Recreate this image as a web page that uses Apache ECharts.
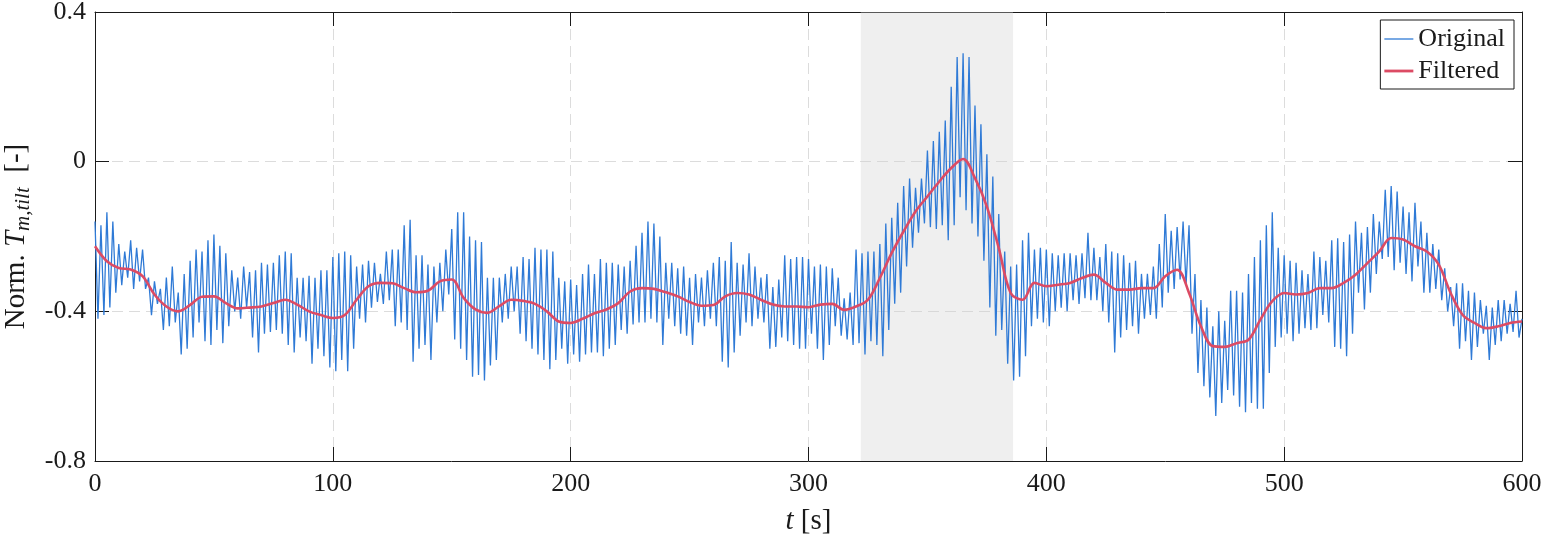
<!DOCTYPE html>
<html>
<head>
<meta charset="utf-8">
<script src="https://cdn.jsdelivr.net/npm/echarts@6/dist/echarts.min.js"></script>
<style>
html,body{margin:0;padding:0;background:#fff;}
#chart{width:1545px;height:543px;}
</style>
</head>
<body>
<div id="chart"></div>
<script>
// ---- data ----
// one oscillation cycle per 2.5 s: a local maximum then a local minimum
const cyclePeriod = 2.5;
const peaks = [
 -0.16,-0.17,-0.135,-0.16,  -0.22,-0.24,-0.21,-0.23,  -0.235,-0.31,-0.32,-0.34,  -0.31,-0.28,-0.35,-0.30,
 -0.265,-0.235,-0.24,-0.21, -0.195,-0.225,-0.245,-0.29, -0.31,-0.28,-0.295,-0.29, -0.27,-0.275,-0.27,-0.25,
 -0.24,-0.245,-0.31,-0.31,  -0.305,-0.31,-0.29,-0.29,  -0.255,-0.245,-0.24,-0.25, -0.28,-0.275,-0.265,-0.27,
 -0.30,-0.24,-0.235,-0.235, -0.17,-0.155,-0.25,-0.25,  -0.275,-0.28,-0.27,-0.235, -0.18,-0.135,-0.135,-0.20,
 -0.21,-0.215,-0.31,-0.31,  -0.31,-0.30,-0.28,-0.28,   -0.255,-0.26,-0.23,-0.235, -0.235,-0.24,-0.31,-0.32,
 -0.315,-0.33,-0.30,-0.275, -0.30,-0.26,-0.27,-0.27,   -0.275,-0.28,-0.265,-0.225, -0.19,-0.16,-0.165,-0.20,
 -0.27,-0.27,-0.285,-0.28,  -0.31,-0.30,-0.31,-0.29,   -0.27,-0.255,-0.265,-0.215, -0.27,-0.275,-0.245,-0.28,
 -0.31,-0.30,-0.335,-0.315, -0.25,-0.26,-0.255,-0.255, -0.26,-0.28,-0.275,-0.28, -0.285,-0.31,-0.365,-0.35,
 -0.235,-0.245,-0.24,-0.24, -0.22,-0.165,-0.15,-0.11,  -0.065,-0.045,-0.07,-0.045, 0.03,0.055,0.08,0.11,
 0.20,0.28,0.29,0.28,       0.15,0.10,0.02,-0.04,      -0.14,-0.24,-0.28,-0.275, -0.21,-0.19,-0.235,-0.23,
 -0.235,-0.245,-0.25,-0.245, -0.245,-0.25,-0.245,-0.19, -0.23,-0.255,-0.22,-0.24, -0.245,-0.25,-0.27,-0.265,
 -0.30,-0.30,-0.28,-0.22,   -0.14,-0.185,-0.175,-0.16, -0.17,-0.30,-0.37,-0.39,  -0.44,-0.40,-0.425,-0.345,
 -0.345,-0.35,-0.30,-0.255, -0.21,-0.17,-0.135,-0.23,  -0.25,-0.265,-0.27,-0.29,  -0.30,-0.24,-0.255,-0.265,
 -0.21,-0.205,-0.215,-0.195, -0.16,-0.19,-0.175,-0.14, -0.16,-0.075,-0.065,-0.08, -0.12,-0.135,-0.11,-0.16,
 -0.19,-0.22,-0.235,-0.285, -0.335,-0.325,-0.325,-0.345, -0.35,-0.37,-0.385,-0.39, -0.37,-0.37,-0.38,-0.345
];
const troughs = [
 -0.42,-0.41,-0.39,-0.35,   -0.33,-0.31,-0.34,-0.32,   -0.34,-0.41,-0.38,-0.45,   -0.44,-0.43,-0.515,-0.50,
 -0.47,-0.43,-0.48,-0.49,   -0.45,-0.485,-0.44,-0.40,  -0.42,-0.39,-0.47,-0.51,   -0.46,-0.455,-0.45,-0.46,
 -0.49,-0.51,-0.47,-0.48,   -0.54,-0.50,-0.52,-0.55,   -0.56,-0.53,-0.56,-0.50,   -0.42,-0.43,-0.39,-0.375,
 -0.38,-0.37,-0.44,-0.43,   -0.45,-0.535,-0.50,-0.49,  -0.53,-0.43,-0.40,-0.355,  -0.475,-0.50,-0.53,-0.575,
 -0.57,-0.585,-0.545,-0.53, -0.43,-0.42,-0.40,-0.46,   -0.48,-0.50,-0.515,-0.53,  -0.555,-0.53,-0.50,-0.54,
 -0.515,-0.535,-0.515,-0.51, -0.51,-0.52,-0.50,-0.49,  -0.45,-0.46,-0.435,-0.43,  -0.43,-0.42,-0.43,-0.49,
 -0.42,-0.44,-0.46,-0.465,  -0.49,-0.43,-0.44,-0.42,   -0.44,-0.535,-0.55,-0.51,  -0.465,-0.43,-0.44,-0.42,
 -0.43,-0.50,-0.495,-0.47,  -0.48,-0.49,-0.50,-0.50,   -0.46,-0.50,-0.53,-0.49,   -0.44,-0.465,-0.475,-0.49,
 -0.485,-0.515,-0.48,-0.49, -0.52,-0.45,-0.38,-0.35,   -0.28,-0.23,-0.19,-0.165,  -0.175,-0.18,-0.17,-0.21,
 -0.17,-0.095,-0.13,-0.165, -0.20,-0.265,-0.39,-0.465, -0.45,-0.54,-0.585,-0.575, -0.52,-0.44,-0.42,-0.43,
 -0.44,-0.40,-0.39,-0.40,   -0.37,-0.38,-0.365,-0.37,  -0.37,-0.40,-0.43,-0.51,   -0.47,-0.45,-0.44,-0.46,
 -0.42,-0.41,-0.42,-0.39,   -0.35,-0.34,-0.315,-0.33,  -0.46,-0.565,-0.60,-0.63,  -0.68,-0.645,-0.61,-0.625,
 -0.655,-0.67,-0.645,-0.66, -0.66,-0.565,-0.495,-0.47, -0.46,-0.48,-0.46,-0.445,  -0.45,-0.445,-0.41,-0.43,
 -0.495,-0.50,-0.52,-0.46,  -0.35,-0.395,-0.35,-0.30,  -0.26,-0.255,-0.29,-0.27,  -0.30,-0.32,-0.28,-0.35,
 -0.35,-0.34,-0.37,-0.40,   -0.44,-0.50,-0.48,-0.53,   -0.495,-0.46,-0.53,-0.49,  -0.48,-0.46,-0.455,-0.47
];
const originalEnd = -0.42;           // value at t = 600 s

// filtered signal, sampled every 5 s from t = 0 to 600
const filteredStep = 5;
const filtered = [
 -0.226,-0.266,-0.284,-0.288,-0.306,-0.355,-0.387,-0.400,-0.383,-0.361,
 -0.360,-0.378,-0.392,-0.390,-0.387,-0.378,-0.369,-0.382,-0.400,-0.410,
 -0.418,-0.410,-0.369,-0.333,-0.324,-0.325,-0.338,-0.349,-0.345,-0.320,
 -0.315,-0.364,-0.395,-0.404,-0.386,-0.369,-0.372,-0.380,-0.400,-0.427,
 -0.431,-0.420,-0.405,-0.395,-0.378,-0.347,-0.338,-0.340,-0.349,-0.360,
 -0.375,-0.385,-0.383,-0.360,-0.351,-0.355,-0.369,-0.382,-0.387,-0.387,
 -0.389,-0.382,-0.380,-0.396,-0.387,-0.369,-0.311,-0.244,-0.186,-0.133,
 -0.093,-0.053,-0.017,0.007,-0.044,-0.120,-0.231,-0.351,-0.369,-0.324,
 -0.333,-0.329,-0.324,-0.311,-0.302,-0.324,-0.342,-0.342,-0.338,-0.338,
 -0.306,-0.289,-0.351,-0.440,-0.493,-0.495,-0.485,-0.476,-0.422,-0.373,
 -0.351,-0.355,-0.351,-0.338,-0.338,-0.324,-0.302,-0.271,-0.240,-0.204,
 -0.208,-0.226,-0.240,-0.275,-0.351,-0.409,-0.431,-0.445,-0.440,-0.431,
 -0.427
];

const shadedRange = [322, 386];
const yTicks = [-0.8, -0.4, 0, 0.4];
const yTickLabels = ['-0.8', '-0.4', '0', '0.4'];
const seriesNames = ['Original', 'Filtered'];

// ---- build series data ----
const originalData = [];
for (let i = 0; i < peaks.length; i++) {
  originalData.push([i * cyclePeriod, peaks[i]]);
  originalData.push([i * cyclePeriod + cyclePeriod / 2, troughs[i]]);
}
originalData.push([peaks.length * cyclePeriod, originalEnd]);
const filteredData = filtered.map((v, i) => [i * filteredStep, v]);

const FONT = "'Liberation Serif', 'DejaVu Serif', serif";
const TXT = '#1a1a1a';
const BLUE = '#2f7ad6';
const RED = '#dc4b64';

const chart = echarts.init(document.getElementById('chart'), null, {renderer: 'canvas'});
const tickCommon = {show: true, inside: true, length: 14, lineStyle: {color: TXT, width: 1}};
const splitCommon = {show: true, lineStyle: {color: '#dcdcdc', width: 1, type: [11, 6]}};

chart.setOption({
  animation: false,
  backgroundColor: '#fff',
  grid: {left: 95, right: 23, top: 12, bottom: 82, containLabel: false, outerBoundsMode: 'none'},
  legend: {
    data: [
      {name: seriesNames[0], icon: 'path://M0,0H29V1.3H0Z'},
      {name: seriesNames[1], icon: 'path://M0,0H29V2.8H0Z'}
    ],
    symbolKeepAspect: true,
    orient: 'vertical',
    right: 31, top: 20,
    backgroundColor: '#fff',
    borderColor: TXT, borderWidth: 1, borderRadius: 0,
    padding: [6, 9, 5, 4],
    itemGap: 6,
    itemWidth: 29, itemHeight: 14,
    textStyle: {fontFamily: FONT, fontSize: 26, lineHeight: 26, color: TXT}
  },
  xAxis: [{
    type: 'value', min: 0, max: 600, interval: 100,
    axisLine: {show: true, onZero: false, lineStyle: {color: TXT, width: 1}},
    axisTick: tickCommon,
    axisLabel: {fontFamily: FONT, fontSize: 26, color: TXT, margin: 10},
    splitLine: splitCommon,
    name: '{i|t}{r| [s]}',
    nameLocation: 'middle', nameGap: 46,
    nameTextStyle: {fontFamily: FONT, fontSize: 29, color: TXT,
      rich: {i: {fontFamily: FONT, fontSize: 29, fontStyle: 'italic', color: TXT},
             r: {fontFamily: FONT, fontSize: 29, color: TXT}}}
  }, {
    type: 'value', min: 0, max: 600, interval: 100, position: 'top',
    axisLine: {show: true, onZero: false, lineStyle: {color: TXT, width: 1}},
    axisTick: tickCommon, axisLabel: {show: false}, splitLine: {show: false}
  }],
  yAxis: [{
    type: 'value', min: -0.8, max: 0.4, interval: 0.4,
    axisLine: {show: true, onZero: false, lineStyle: {color: TXT, width: 1}},
    axisTick: tickCommon,
    axisLabel: {fontFamily: FONT, fontSize: 26, color: TXT, margin: 9,
      formatter: v => {
        const k = yTicks.findIndex(t => Math.abs(t - v) < 1e-6);
        return k >= 0 ? yTickLabels[k] : '';
      }},
    splitLine: splitCommon,
    name: '{r|Norm. }{i|T}{s|m,tilt}{r|  [-]}',
    nameLocation: 'middle', nameGap: 60, nameRotate: 90,
    nameTextStyle: {fontFamily: FONT, fontSize: 29, color: TXT,
      rich: {
        r: {fontFamily: FONT, fontSize: 29, color: TXT, lineHeight: 36, verticalAlign: 'middle'},
        i: {fontFamily: FONT, fontSize: 29, fontStyle: 'italic', color: TXT, lineHeight: 36, verticalAlign: 'middle'},
        s: {fontFamily: FONT, fontSize: 21, fontStyle: 'italic', color: TXT, lineHeight: 22, verticalAlign: 'bottom'}
      }}
  }, {
    type: 'value', min: -0.8, max: 0.4, interval: 0.4, position: 'right',
    axisLine: {show: true, onZero: false, lineStyle: {color: TXT, width: 1}},
    axisTick: tickCommon, axisLabel: {show: false}, splitLine: {show: false}
  }],
  series: [{
    name: seriesNames[0], type: 'line', data: originalData,
    symbol: 'none', showSymbol: false, z: 2,
    lineStyle: {color: BLUE, width: 1.3}, itemStyle: {color: BLUE}
  }, {
    name: seriesNames[1], type: 'line', data: filteredData,
    symbol: 'none', showSymbol: false, smooth: 0.35, z: 3,
    lineStyle: {color: RED, width: 2.6}, itemStyle: {color: RED}
  }, {
    name: 'shade', type: 'line', data: [], z: 5, silent: true,
    markArea: {silent: true, itemStyle: {color: 'rgba(210,210,210,0.35)'},
      data: [[{xAxis: shadedRange[0]}, {xAxis: shadedRange[1]}]]}
  }]
});
</script>
</body>
</html>
